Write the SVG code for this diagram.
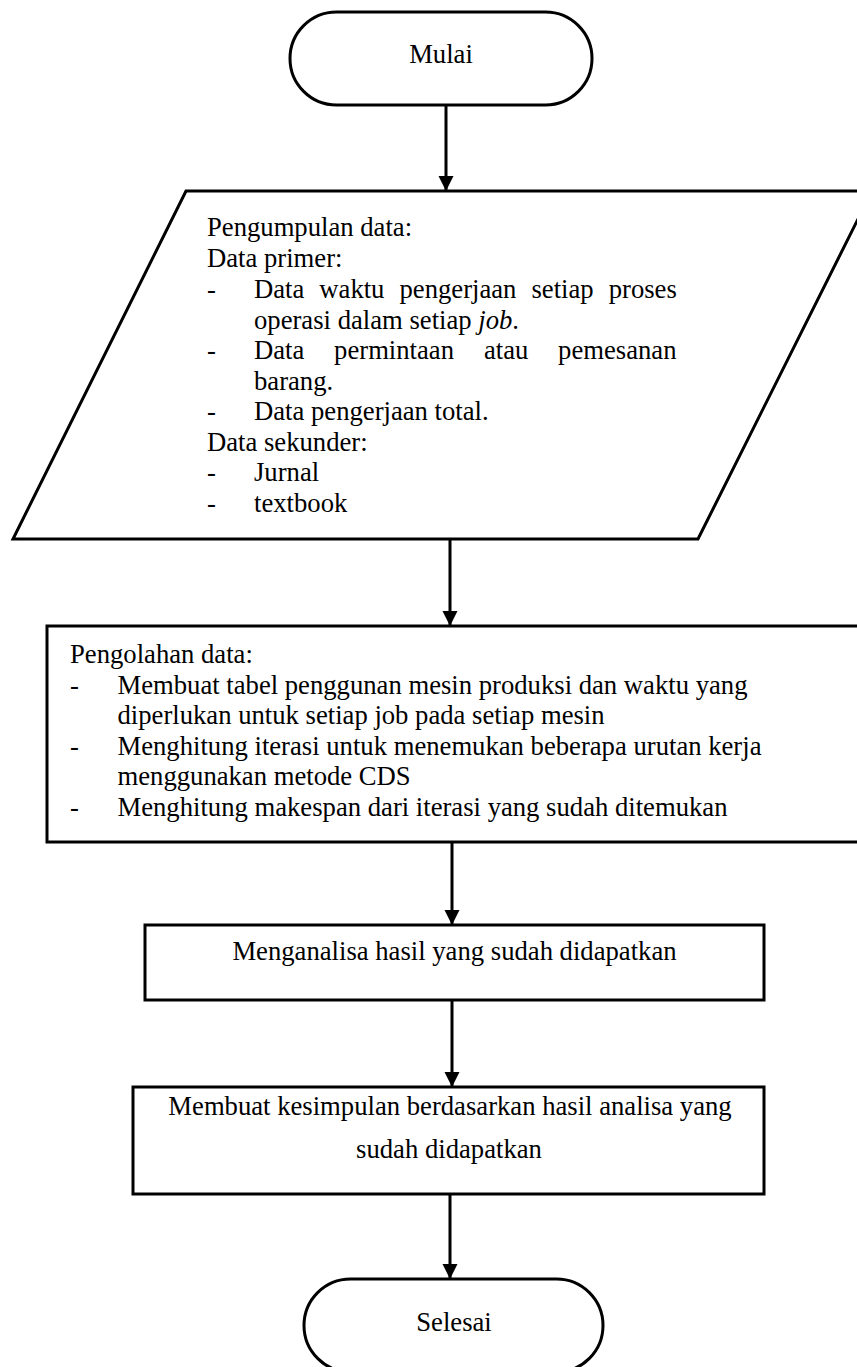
<svg xmlns="http://www.w3.org/2000/svg" width="857" height="1367" viewBox="0 0 857 1367">
<defs>
<style>
.shape{fill:#fff;stroke:#000;stroke-width:3;stroke-linejoin:miter}
.conn{stroke:#000;stroke-width:3;fill:none}
text{font-family:"Liberation Serif","Times New Roman",serif;font-size:26.67px;fill:#000}
.c{text-anchor:middle}
</style>
<marker id="arr" markerUnits="userSpaceOnUse" markerWidth="16" markerHeight="16" refX="15" refY="7.5" orient="auto">
<path d="M0,0 L15,7.5 L0,15 z" fill="#000"/>
</marker>
</defs>
<rect width="857" height="1367" fill="#fff"/>

<g id="connectors">
<line class="conn" x1="446" y1="105" x2="446" y2="191" marker-end="url(#arr)"/>
<line class="conn" x1="450" y1="539" x2="450" y2="626" marker-end="url(#arr)"/>
<line class="conn" x1="452" y1="836" x2="452" y2="925" marker-end="url(#arr)"/>
<line class="conn" x1="452" y1="1000" x2="452" y2="1087" marker-end="url(#arr)"/>
<line class="conn" x1="450" y1="1191" x2="450" y2="1279" marker-end="url(#arr)"/>
</g>

<g id="mulai">
<rect class="shape" x="290" y="12" width="302" height="93" rx="46.5" ry="46.5"/>
<text class="c" x="441" y="63">Mulai</text>
</g>

<g id="pengumpulan">
<polygon class="shape" points="186,191 872,191 698,539 13,539"/>
<text x="207" y="236">Pengumpulan data:</text>
<text x="207" y="267">Data primer:</text>
<text y="298"><tspan x="207">-</tspan><tspan x="254">Data</tspan><tspan x="319.3">waktu</tspan><tspan x="399.5">pengerjaan</tspan><tspan x="531.5">setiap</tspan><tspan x="608.7">proses</tspan></text>
<text x="254" y="328.5">operasi dalam setiap <tspan font-style="italic">job</tspan>.</text>
<text y="359"><tspan x="207">-</tspan><tspan x="254">Data</tspan><tspan x="334.1">permintaan</tspan><tspan x="483.9">atau</tspan><tspan x="558.1">pemesanan</tspan></text>
<text x="254" y="389.5">barang.</text>
<text y="420"><tspan x="207">-</tspan><tspan x="254">Data pengerjaan total.</tspan></text>
<text x="207" y="450.5">Data sekunder:</text>
<text y="481"><tspan x="207">-</tspan><tspan x="254">Jurnal</tspan></text>
<text y="511.5"><tspan x="207">-</tspan><tspan x="254">textbook</tspan></text>
</g>

<g id="pengolahan">
<rect class="shape" x="47" y="626" width="830" height="216"/>
<text x="70" y="663">Pengolahan data:</text>
<text y="693.5"><tspan x="70">-</tspan><tspan x="117.5">Membuat tabel penggunan mesin produksi dan waktu yang</tspan></text>
<text x="117.5" y="724">diperlukan untuk setiap job pada setiap mesin</text>
<text y="754.5"><tspan x="70">-</tspan><tspan x="117.5">Menghitung iterasi untuk menemukan beberapa urutan kerja</tspan></text>
<text x="117.5" y="785">menggunakan metode CDS</text>
<text y="815.5"><tspan x="70">-</tspan><tspan x="117.5">Menghitung makespan dari iterasi yang sudah ditemukan</tspan></text>
</g>

<g id="menganalisa">
<rect class="shape" x="145" y="925" width="619" height="75"/>
<text class="c" x="454.5" y="960">Menganalisa hasil yang sudah didapatkan</text>
</g>

<g id="kesimpulan">
<rect class="shape" x="133" y="1087" width="631" height="107"/>
<text class="c" x="450" y="1115">Membuat kesimpulan berdasarkan hasil analisa yang</text>
<text class="c" x="449" y="1158">sudah didapatkan</text>
</g>

<g id="selesai">
<rect class="shape" x="304" y="1279" width="299" height="93" rx="46.5" ry="46.5"/>
<text class="c" x="454" y="1331">Selesai</text>
</g>
</svg>
